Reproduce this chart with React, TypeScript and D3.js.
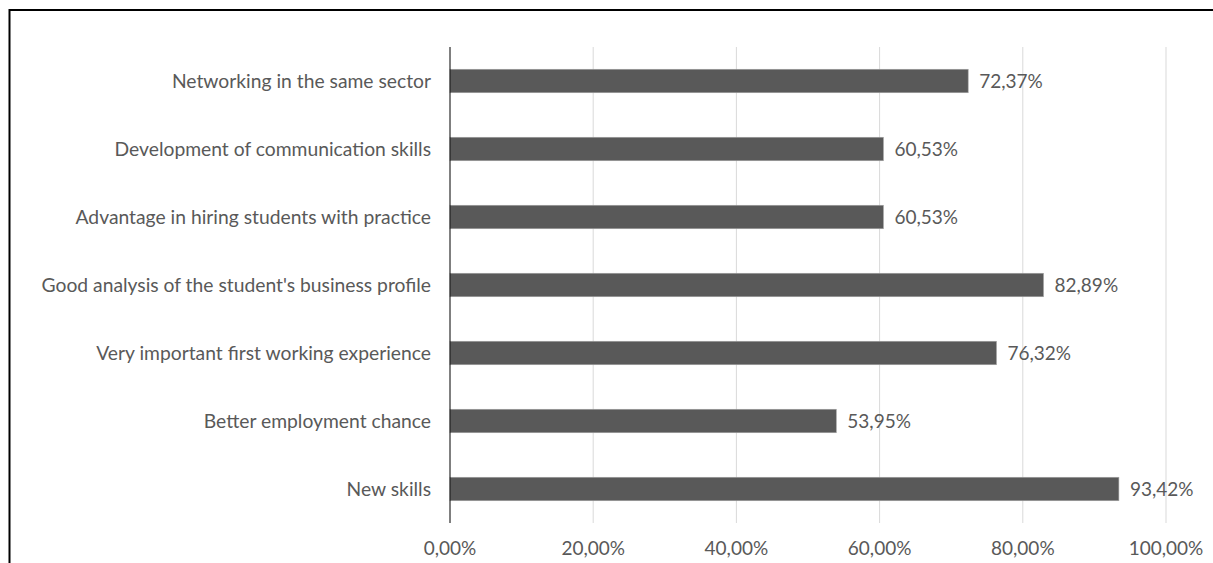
import React from "react";
import * as d3 from "d3";

const categories = [
  "Networking in the same sector",
  "Development of communication skills",
  "Advantage in hiring students with practice",
  "Good analysis of the student's business profile",
  "Very important first working experience",
  "Better employment chance",
  "New skills",
];
const values = [72.37, 60.53, 60.53, 82.89, 76.32, 53.95, 93.42];
const ticks = [0, 20, 40, 60, 80, 100];

const W = 1213;
const H = 563;
const FONT = "Lato, 'Open Sans', sans-serif";

const fmt = (v: number) => v.toFixed(2).replace(".", ",") + "%";

export default function App() {
  const x = d3.scaleLinear().domain([0, 100]).range([450, 1166]);
  const y = d3.scaleBand().domain(categories).range([47, 523]).paddingInner(0.655).paddingOuter(0.3275);
  const bw = y.bandwidth();
  return (
    <svg width={W} height={H} style={{ position: "absolute", left: 0, top: 0 }}>
      <rect x={0} y={0} width={W} height={H} fill="#fff" />
      <rect x={9.5} y={10} width={1400} height={700} fill="none" stroke="#000" strokeWidth={2} />
      {ticks.slice(1).map((t) => (
        <line key={t} x1={x(t)} x2={x(t)} y1={47} y2={523} stroke="#d9d9d9" strokeWidth={1} />
      ))}
      {categories.map((c, i) => (
        <g key={c}>
          <rect
            x={x(0)}
            y={y(c)!}
            width={x(values[i]) - x(0)}
            height={bw}
            fill="#595959"
            stroke="#a0a0a0"
            strokeWidth={0.6}
          />
          <text
            x={x(values[i]) + 11}
            y={y(c)! + bw / 2}
            dy="0.35em"
            fontFamily={FONT}
            fontSize={19}
            fill="#595959"
          >
            {fmt(values[i])}
          </text>
          <text
            x={431}
            y={y(c)! + bw / 2}
            dy="0.35em"
            textAnchor="end"
            fontFamily={FONT}
            fontSize={19.3}
            fill="#595959"
          >
            {c}
          </text>
        </g>
      ))}
      <line x1={x(0)} x2={x(0)} y1={47} y2={523} stroke="#000" strokeWidth={1} />
      {ticks.map((t) => (
        <text
          key={t}
          x={x(t)}
          y={548}
          dy="0.35em"
          textAnchor="middle"
          fontFamily={FONT}
          fontSize={19}
          fill="#595959"
        >
          {fmt(t)}
        </text>
      ))}
    </svg>
  );
}
